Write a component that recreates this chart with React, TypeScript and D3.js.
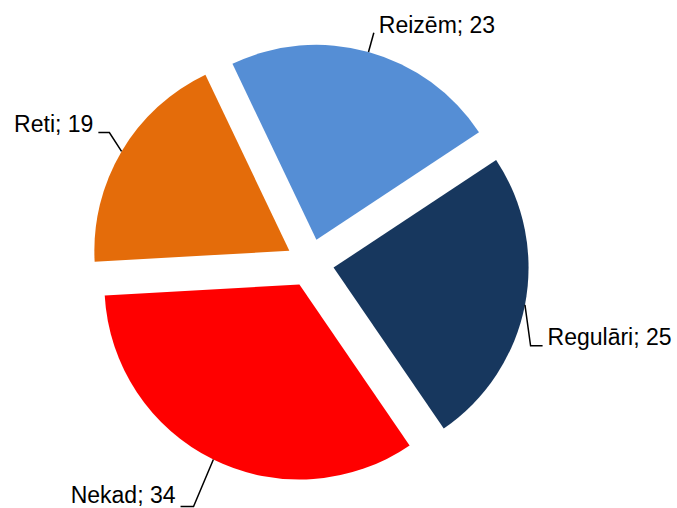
import React, { useEffect } from "react";
import * as d3 from "d3";

const categories = ["Reizēm", "Regulāri", "Nekad", "Reti"];
const values = [23, 25, 34, 19];
const colors = ["#558ED5", "#17375E", "#FF0000", "#E46C0A"];

const W = 677;
const H = 508;
const CX = 310;
const CY = 263;
const R = 195;
const EXPLODE = 24;
const START = (-25.5 * Math.PI) / 180;

// label layout: nudge of elbow, horizontal tail length (signed)
const labelNudge: [number, number, number][] = [
  [0, 0, 0],
  [-14, 37, 12],
  [-11, 29, -13],
  [5, -8.6, -11],
];

const polar = (a: number, r: number): [number, number] => [Math.sin(a) * r, -Math.cos(a) * r];

export default function App() {
  useEffect(() => {
    document.body.style.margin = "0";
  }, []);
  const pie = d3
    .pie<number>()
    .sort(null)
    .value((d) => d)
    .startAngle(START)
    .endAngle(START + 2 * Math.PI);
  const arcs = pie(values);
  const arcGen = d3.arc<d3.PieArcDatum<number>>().innerRadius(0).outerRadius(R);

  return (
    <svg width={W} height={H} style={{ position: "absolute", left: 0, top: 0 }}>
      <rect width={W} height={H} fill="#fff" />
      {arcs.map((a, i) => {
        const mid = (a.startAngle + a.endAngle) / 2;
        const [ox, oy] = polar(mid, EXPLODE);
        const vx = CX + ox;
        const vy = CY + oy;
        const [sx, sy] = polar(mid, R);
        const [ex, ey] = polar(mid, R + 20);
        const [nx, ny, tail] = labelNudge[i];
        const p0: [number, number] = [vx + sx, vy + sy];
        const p1: [number, number] = [vx + ex + nx, vy + ey + ny];
        const p2: [number, number] = [p1[0] + tail, p1[1]];
        const right = tail > 0 || (tail === 0 && Math.sin(mid) >= 0);
        const tx = p2[0] + (right ? 5 : -5);
        const ty = Math.min(tail === 0 ? p1[1] : p2[1] - 1, H - 5);
        const line = d3.line()([p0, p1, p2]) || "";
        return (
          <g key={categories[i]}>
            <path d={arcGen(a) || ""} transform={`translate(${vx},${vy})`} fill={colors[i]} />
            <path d={line} fill="none" stroke="#000" strokeWidth={1.5} />
            <text
              x={tx}
              y={ty}
              textAnchor={right ? "start" : "end"}
              fontFamily="Liberation Sans, Arial, sans-serif"
              fontSize={23}
              fill="#000"
            >
              {`${categories[i]}; ${values[i]}`}
            </text>
          </g>
        );
      })}
    </svg>
  );
}
